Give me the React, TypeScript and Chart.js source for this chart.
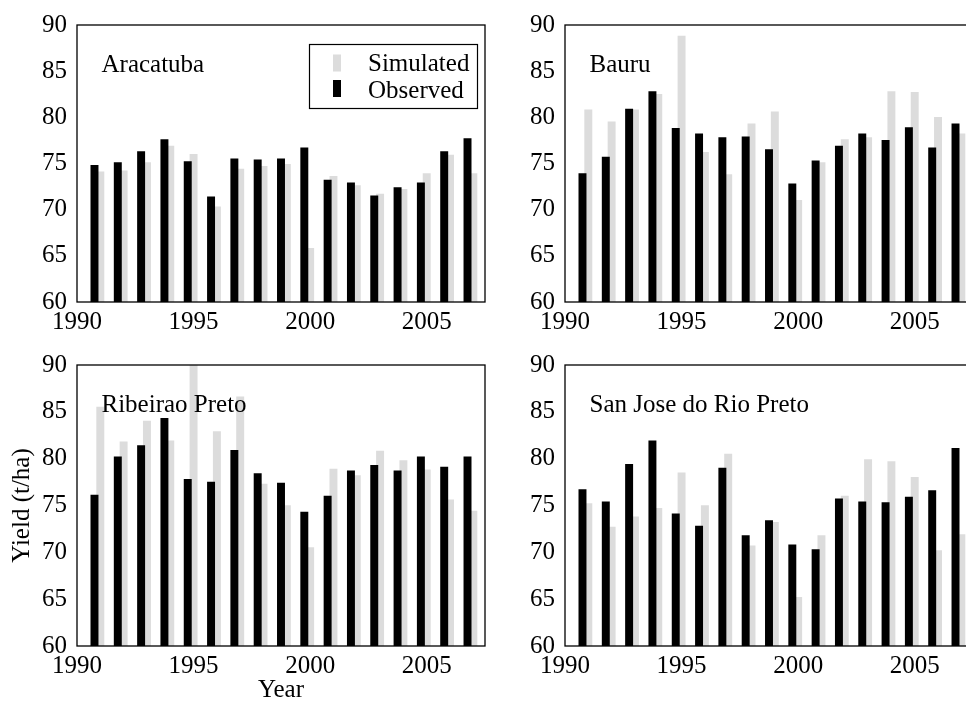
import React, { useEffect, useRef } from 'react';
import { Chart, registerables } from 'chart.js';

Chart.register(...registerables);

// ---------------- data ----------------
const years = [1991, 1992, 1993, 1994, 1995, 1996, 1997, 1998, 1999, 2000, 2001, 2002, 2003, 2004, 2005, 2006, 2007];

const aracatubaObserved = [74.8, 75.1, 76.3, 77.6, 75.2, 71.4, 75.5, 75.4, 75.5, 76.7, 73.2, 72.9, 71.5, 72.4, 72.9, 76.3, 77.7];
const aracatubaSimulated = [74.1, 74.2, 75.1, 76.9, 76.0, 70.3, 74.4, 74.7, 74.9, 65.8, 73.6, 72.6, 71.7, 72.2, 73.9, 75.9, 73.9];

const bauruObserved = [73.9, 75.7, 80.9, 82.8, 78.8, 78.2, 77.8, 77.9, 76.5, 72.8, 75.3, 76.9, 78.2, 77.5, 78.9, 76.7, 79.3];
const bauruSimulated = [80.8, 79.5, 80.8, 82.5, 88.8, 76.2, 73.8, 79.3, 80.6, 71.0, 75.1, 77.6, 77.8, 82.8, 82.7, 80.0, 78.2];

const ribeiraoObserved = [76.1, 80.2, 81.4, 84.3, 77.8, 77.5, 80.9, 78.4, 77.4, 74.3, 76.0, 78.7, 79.3, 78.7, 80.2, 79.1, 80.2];
const ribeiraoSimulated = [85.5, 81.8, 84.0, 81.9, 90.0, 82.9, 86.6, 77.3, 75.0, 70.5, 78.9, 78.2, 80.8, 79.8, 78.8, 75.6, 74.4];

const sanJoseObserved = [76.7, 75.4, 79.4, 81.9, 74.1, 72.8, 79.0, 71.8, 73.4, 70.8, 70.3, 75.7, 75.4, 75.3, 75.9, 76.6, 81.1];
const sanJoseSimulated = [75.2, 72.7, 73.8, 74.7, 78.5, 75.0, 80.5, 70.7, 73.2, 65.2, 71.8, 76.0, 79.9, 79.7, 78.0, 70.2, 71.9];

const panelNames = ['Aracatuba', 'Bauru', 'Ribeirao Preto', 'San Jose do Rio Preto'];
const seriesNames = ['Simulated', 'Observed'];
const xTicks = [1990, 1995, 2000, 2005];
const yTicks = [60, 65, 70, 75, 80, 85, 90];
const xTitle = 'Year';
const yTitle = 'Yield (t/ha)';

// ---------------- styles ----------------
const FONT = '"Liberation Serif", "Times New Roman", serif';
const SIM_COLOR = '#dcdcdc';
const OBS_COLOR = '#000000';
const OBS_SHIFT = 0.25; // observed bar drawn slightly left of the year

const panelPlugin = {
  id: 'panelDecor',
  afterDatasetsDraw(chart: any, _args: any, opts: any) {
    const { ctx, chartArea } = chart;
    const { left, top, right, bottom } = chartArea;
    ctx.save();
    // frame
    ctx.strokeStyle = '#000';
    ctx.lineWidth = 1.3;
    ctx.strokeRect(left, top, right - left, bottom - top);
    // panel name
    ctx.fillStyle = '#000';
    ctx.font = `25px ${FONT}`;
    ctx.textAlign = 'left';
    ctx.textBaseline = 'alphabetic';
    ctx.fillText(opts.title, left + 24.5, top + 46.5);
    if (opts.legend) {
      const bx = left + 232.5;
      const by = top + 19.5;
      ctx.lineWidth = 1.2;
      ctx.strokeRect(bx, by, 168, 64);
      const ds = chart.data.datasets;
      const order = [1, 0];
      order.forEach((di: number, i: number) => {
        const d = ds[di];
        ctx.fillStyle = d.backgroundColor;
        ctx.fillRect(left + 256, top + 29.5 + i * 25.5, 8, 17);
        ctx.fillStyle = '#000';
        ctx.fillText(d.label, left + 291, top + 46 + i * 26.5);
      });
    }
    ctx.restore();
  },
};

type PanelSpec = {
  name: string;
  observed: number[];
  simulated: number[];
  left: number;
  top: number;
  height: number;
  padTop: number;
  xAxisH: number;
  legend: boolean;
  showXTitle: boolean;
  showYTitle: boolean;
};

const W = 488;

const panels: PanelSpec[] = [
  { name: panelNames[0], observed: aracatubaObserved, simulated: aracatubaSimulated, left: 0, top: 0, height: 340, padTop: 15, xAxisH: 38, legend: true, showXTitle: false, showYTitle: false },
  { name: panelNames[1], observed: bauruObserved, simulated: bauruSimulated, left: W, top: 0, height: 340, padTop: 15, xAxisH: 38, legend: false, showXTitle: false, showYTitle: false },
  { name: panelNames[2], observed: ribeiraoObserved, simulated: ribeiraoSimulated, left: 0, top: 340, height: 366, padTop: 19, xAxisH: 60, legend: false, showXTitle: true, showYTitle: true },
  { name: panelNames[3], observed: sanJoseObserved, simulated: sanJoseSimulated, left: W, top: 340, height: 366, padTop: 19, xAxisH: 60, legend: false, showXTitle: false, showYTitle: false },
];

function Panel({ spec }: { spec: PanelSpec }) {
  const ref = useRef<HTMLCanvasElement | null>(null);
  useEffect(() => {
    if (!ref.current) return;
    const tickFont = { family: FONT, size: 25 };
    const chart = new Chart(ref.current, {
      type: 'bar',
      data: {
        datasets: [
          {
            label: seriesNames[1],
            data: years.map((yr, i) => ({ x: yr - OBS_SHIFT, y: spec.observed[i] })),
            backgroundColor: OBS_COLOR,
            borderWidth: 0,
            barThickness: 7.3,
            grouped: false,
          },
          {
            label: seriesNames[0],
            data: years.map((yr, i) => ({ x: yr, y: spec.simulated[i] })),
            backgroundColor: SIM_COLOR,
            borderWidth: 0,
            barThickness: 7.3,
            grouped: false,
          },
        ],
      },
      options: {
        animation: false,
        responsive: false,
        maintainAspectRatio: false,
        layout: { padding: { top: spec.padTop, right: 3, left: 0, bottom: 0 } },
        plugins: {
          legend: { display: false },
          tooltip: { enabled: false },
          panelDecor: { title: spec.name, legend: spec.legend },
        } as any,
        scales: {
          x: {
            type: 'linear',
            min: 1990,
            max: 2007.5,
            offset: false,
            grid: { display: false, drawTicks: false, offset: false },
            border: { display: false },
            ticks: {
              font: tickFont,
              color: '#000',
              padding: 5,
              maxRotation: 0,
              autoSkip: false,
              callback: (v: any) => String(v),
            },
            afterBuildTicks: (axis: any) => {
              axis.ticks = xTicks.map((v) => ({ value: v }));
            },
            afterFit: (axis: any) => {
              axis.height = spec.xAxisH;
            },
            title: {
              display: spec.showXTitle,
              text: xTitle,
              color: '#000',
              font: { family: FONT, size: 25 },
              padding: { top: 0, bottom: 1 },
            },
          },
          y: {
            type: 'linear',
            min: 60,
            max: 90,
            grid: { display: false, drawTicks: false },
            border: { display: false },
            ticks: {
              font: tickFont,
              color: '#000',
              padding: 10,
              callback: (v: any) => String(v),
            },
            afterBuildTicks: (axis: any) => {
              axis.ticks = yTicks.map((v) => ({ value: v }));
            },
            afterFit: (axis: any) => {
              axis.width = 77;
            },
            title: {
              display: spec.showYTitle,
              text: yTitle,
              color: '#000',
              font: { family: FONT, size: 25 },
              padding: { top: 7.5, bottom: 0 },
            },
          },
        },
      } as any,
      plugins: [panelPlugin],
    });
    return () => chart.destroy();
  }, [spec]);

  return (
    <canvas
      ref={ref}
      width={W}
      height={spec.height}
      style={{ position: 'absolute', left: spec.left, top: spec.top, width: W, height: spec.height }}
    />
  );
}

export default function App() {
  useEffect(() => {
    document.body.style.margin = '0';
  }, []);
  return (
    <div
      style={{
        position: 'absolute',
        left: 0,
        top: 0,
        width: 966,
        height: 706,
        overflow: 'hidden',
        background: '#fff',
      }}
    >
      {panels.map((p) => (
        <Panel key={p.name} spec={p} />
      ))}
    </div>
  );
}
